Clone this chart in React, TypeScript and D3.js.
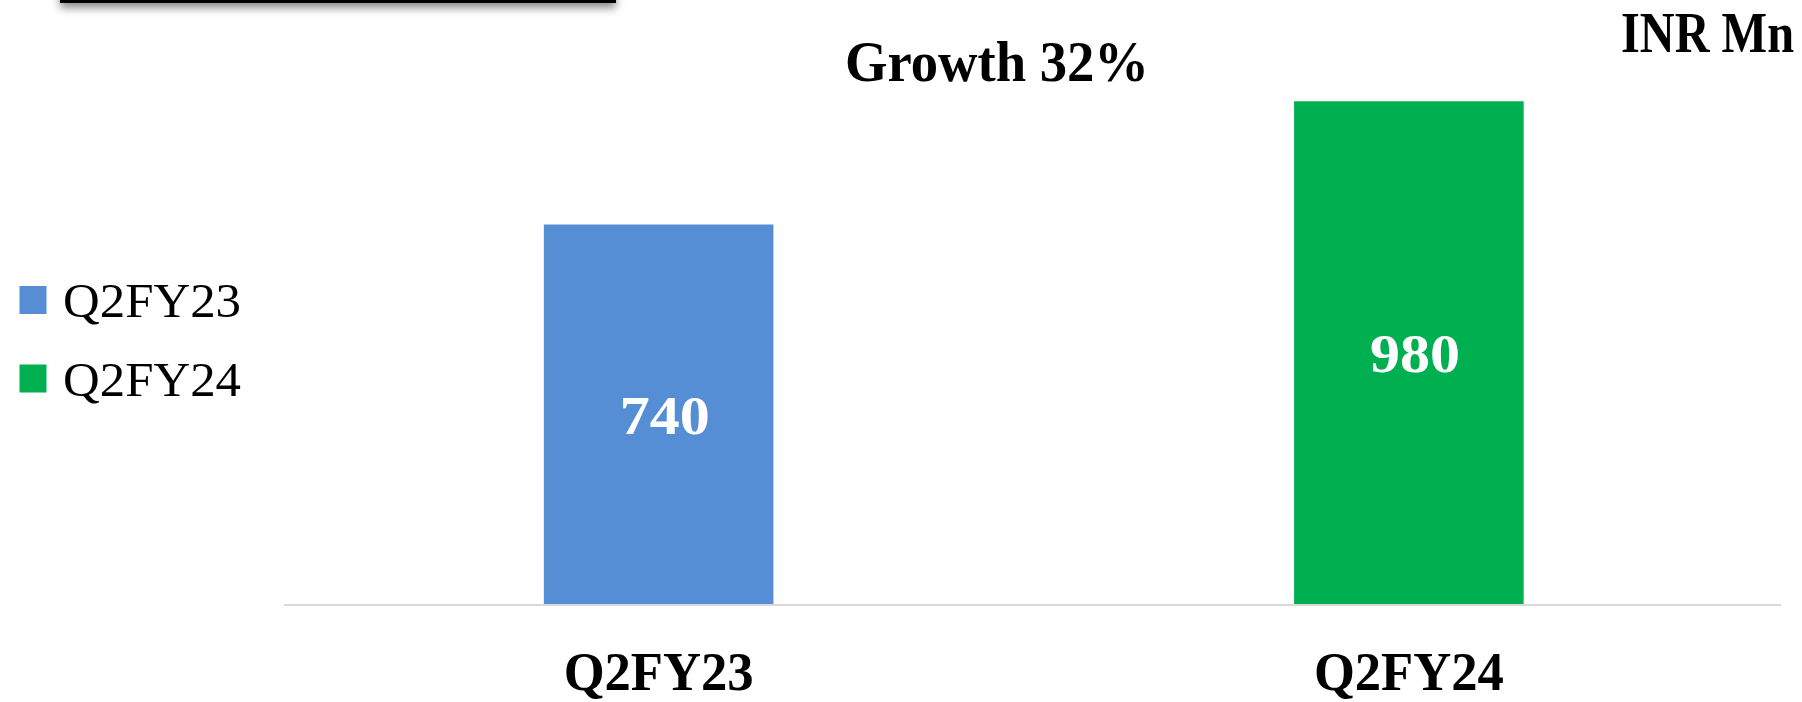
import React from "react";
import * as d3 from "d3";

const categories = ["Q2FY23", "Q2FY24"];
const values = [740, 980];
const colors = ["#558ED5", "#00B050"];
const legendLabels = ["Q2FY23", "Q2FY24"];
const title = "Growth 32%";
const unitLabel = "INR Mn";

const W = 1802;
const H = 702;
const SERIF = "'Liberation Serif', 'DejaVu Serif', serif";

export default function App() {
  const x = d3.scaleBand<string>().domain(categories).range([283.5, 1784]).padding(0);
  const y = d3.scaleLinear().domain([0, 1000]).range([604.5, 91]);
  const barW = x.bandwidth() * 0.306;

  return (
    <svg
      width={W}
      height={H}
      style={{ position: "absolute", left: 0, top: 0, background: "#fff" }}
      xmlns="http://www.w3.org/2000/svg"
    >
      <defs>
        <filter id="sh" x="-10%" y="-200%" width="120%" height="600%">
          <feDropShadow dx="0" dy="5" stdDeviation="4" floodColor="#000" floodOpacity="0.45" />
        </filter>
      </defs>
      <rect x={0} y={0} width={W} height={H} fill="#fff" />
      {/* top cropped box edge */}
      <rect x={60} y={-20} width={556} height={23} fill="#000" filter="url(#sh)" />

      {/* title */}
      <text
        x={997}
        y={80.5}
        textAnchor="middle"
        fontFamily={SERIF}
        fontWeight="bold"
        fontSize={56}
        textLength={304}
        lengthAdjust="spacingAndGlyphs"
        fill="#000"
      >
        {title}
      </text>
      <text
        x={1621}
        y={52}
        fontFamily={SERIF}
        fontWeight="bold"
        fontSize={56}
        textLength={173}
        lengthAdjust="spacingAndGlyphs"
        fill="#000"
      >
        {unitLabel}
      </text>

      {/* bars */}
      {categories.map((c, i) => {
        const cx = (x(c) as number) + x.bandwidth() / 2;
        const top = y(values[i]);
        const bottom = y(0);
        return (
          <g key={c}>
            <rect x={cx - barW / 2} y={top} width={barW} height={bottom - top} fill={colors[i]} />
            <text
              x={cx + 6}
              y={(top + bottom) / 2}
              dy="0.35em"
              textAnchor="middle"
              fontFamily={SERIF}
              fontWeight="bold"
              fontSize={55}
              textLength={90}
              lengthAdjust="spacingAndGlyphs"
              fill="#fff"
            >
              {values[i]}
            </text>
          </g>
        );
      })}

      {/* axis line */}
      <line x1={284} x2={1781} y1={605} y2={605} stroke="#d9d9d9" strokeWidth={2} />

      {/* category labels */}
      {categories.map((c) => {
        const cx = (x(c) as number) + x.bandwidth() / 2;
        return (
          <text
            key={c}
            x={cx}
            y={690}
            textAnchor="middle"
            fontFamily={SERIF}
            fontWeight="bold"
            fontSize={55}
            textLength={190}
            lengthAdjust="spacingAndGlyphs"
            fill="#000"
          >
            {c}
          </text>
        );
      })}

      {/* legend */}
      {legendLabels.map((l, i) => {
        const cy = 300 + i * 78.5;
        return (
          <g key={l}>
            <rect x={19.5} y={cy - 14} width={27} height={28} fill={colors[i]} />
            <text
              x={63}
              y={cy + 17}
              fontFamily={SERIF}
              fontSize={48}
              textLength={178}
              lengthAdjust="spacingAndGlyphs"
              fill="#000"
            >
              {l}
            </text>
          </g>
        );
      })}
    </svg>
  );
}
